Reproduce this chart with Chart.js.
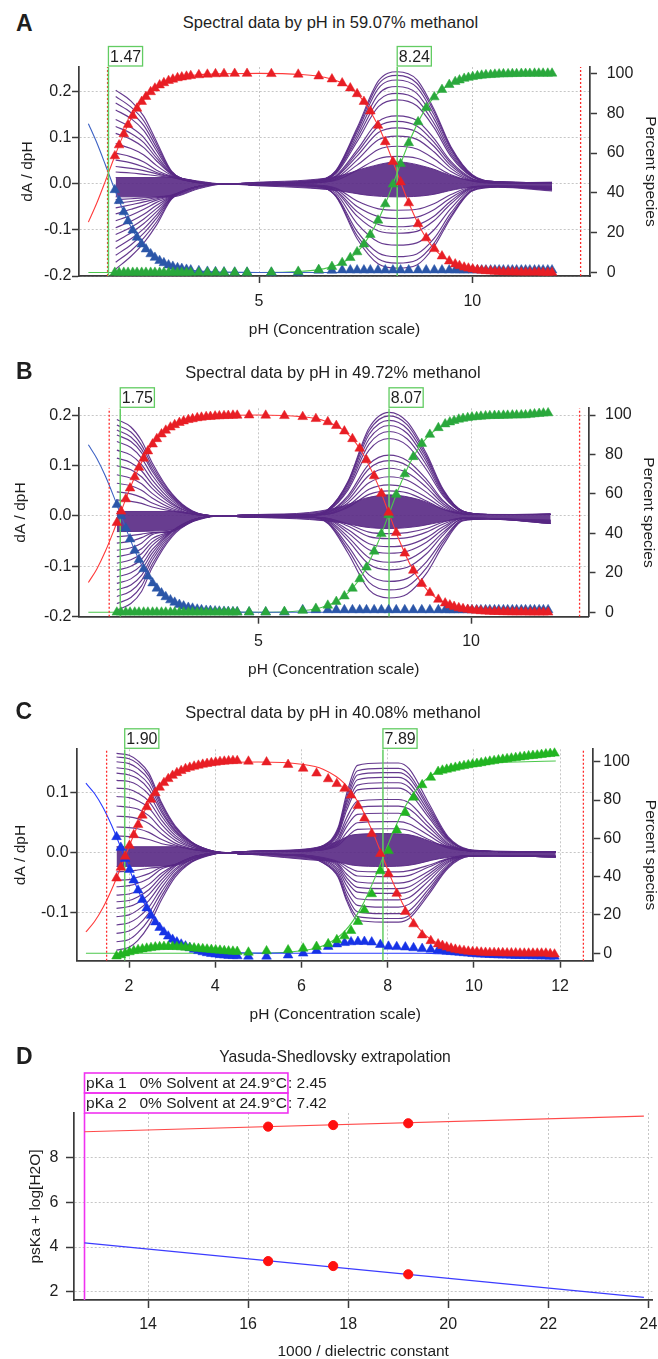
<!DOCTYPE html>
<html><head><meta charset="utf-8">
<script src="https://cdn.jsdelivr.net/npm/chart.js@4.4.1/dist/chart.umd.min.js"></script>
<style>
body{margin:0;background:#fff;width:658px;height:1359px;position:relative;overflow:hidden;font-family:"Liberation Sans",Arial,Helvetica,sans-serif;color:#1e1e1e}
canvas{position:absolute;left:0}
.t{position:absolute;white-space:nowrap;line-height:1;z-index:5}
.lt{font-weight:bold;font-size:23px}
.ti{font-size:16.5px;width:600px;text-align:center}
</style></head><body>
<canvas id="cA" width="658" height="305" style="top:40px"></canvas>
<canvas id="cB" width="658" height="305" style="top:380px"></canvas>
<canvas id="cC" width="658" height="310" style="top:720px"></canvas>
<canvas id="cD" width="658" height="299" style="top:1060px"></canvas>
<div class="t lt" style="left:16px;top:12px">A</div>
<div class="t ti" style="left:30.5px;top:13.6px">Spectral data by pH in 59.07% methanol</div>
<div class="t lt" style="left:16px;top:360.4px">B</div>
<div class="t ti" style="left:33px;top:363.6px">Spectral data by pH in 49.72% methanol</div>
<div class="t lt" style="left:15.5px;top:700.4px">C</div>
<div class="t ti" style="left:33px;top:703.6px">Spectral data by pH in 40.08% methanol</div>
<div class="t lt" style="left:16px;top:1044.5px">D</div>
<div class="t ti" style="left:35px;top:1049.3px;font-size:15.7px">Yasuda-Shedlovsky extrapolation</div>
<script>
// ===================== DATA =====================
// ---- Panel A (59.07% methanol) ----
const A_xTicks = [5, 10];
const A_yTicks = [-0.2, -0.1, 0, 0.1, 0.2];
const A_pctTicks = [0, 20, 40, 60, 80, 100];
const A_pKa = [1.47, 8.24];
const A_marks = [1.45, 12.54];
const A_triPH = [1.62,1.72,1.83,1.93,2.04,2.14,2.25,2.35,2.46,2.56,2.67,2.77,2.88,2.98,3.09,3.19,3.30,3.40,
  3.59,3.79,3.98,4.18,4.43,4.72,5.29,5.92,6.40,6.71,6.95,7.14,7.30,7.46,7.61,7.79,7.96,8.14,8.32,8.51,8.73,8.92,9.11,9.29,9.46,
  9.60,9.70,9.81,9.91,10.01,10.12,10.22,10.32,10.43,10.53,10.63,10.73,10.84,10.94,11.04,11.15,11.25,11.35,11.46,11.56,11.66,11.77,11.87];
const A_red = [58.5,64.0,69.6,74.2,78.8,82.4,85.8,88.3,90.7,92.5,94.1,95.2,96.3,97.0,97.7,98.1,98.5,98.8,
  99.2,99.5,99.7,99.8,99.9,99.9,99.8,99.5,98.6,97.1,95.1,92.6,89.7,85.8,81.0,73.8,65.6,55.7,45.4,34.9,24.4,17.3,11.9,8.2,5.7,
  4.2,3.4,2.6,2.1,1.7,1.3,1.0,0.8,0.7,0.5,0.4,0.3,0.3,0.2,0.2,0.1,0.1,0.1,0.1,0.1,0,0,0];
const A_green = [0,0,0,0,0,0,0,0,0,0,0,0,0,0,0,0,0,0,
  0,0,0,0,0,0,0.1,0.5,1.4,2.9,4.9,7.4,10.3,14.2,19.0,26.2,34.4,44.3,54.6,65.1,75.6,82.7,88.1,91.8,94.3,
  95.8,96.6,97.4,97.9,98.3,98.7,99.0,99.2,99.3,99.5,99.6,99.7,99.7,99.8,99.8,99.9,99.9,99.9,100,100,100,100,100];
const A_blue = [41.5,36.0,30.4,25.8,21.2,17.6,14.2,11.7,9.3,7.5,5.9,4.8,3.7,3.0,2.3,1.9,1.5,1.2,
  0.8,0.5,0.3,0.2,0.1,0.1,0,0,1.0,1.0,1.2,1.2,1.2,1.2,1.2,1.2,1.2,1.2,1.2,1.2,1.2,1.2,1.2,1.2,1.2,
  1.2,1.2,1.2,1.2,1.2,1.2,1.2,1.2,1.2,1.2,1.2,1.2,1.2,1.2,1.2,1.2,1.2,1.2,1.2,1.2,1.2,1.2,1.2];
const A_linePH = [1.0,1.2,1.4,1.6,1.8,2.0,2.2,2.5,2.8,3.2,3.6,4.2,5.0,6.0,6.5,7.0,7.4,7.8,8.0,8.24,8.5,8.8,9.1,9.5,10.0,10.5,11.0,11.9];
const A_redLine = [25.3,35.0,46.0,57.4,68.1,77.2,84.3,91.5,95.5,98.2,99.3,99.8,100,99.4,98.2,94.6,87.4,73.4,63.5,50,35.5,21.6,12.1,5.2,1.7,0.5,0.2,0];
const A_blueLine = [74.7,65.0,54.0,42.6,31.9,22.8,15.7,8.5,4.5,1.8,0.7,0.2,0,0,0,0,0,0,0,0,0,0,0,0,0,0,0,0];
const A_greenLine = [0,0,0,0,0,0,0,0,0,0,0,0,0,0.6,1.8,5.4,12.6,26.6,36.5,50,64.5,78.4,87.9,94.8,98.3,99.5,99.8,100];
const A_bandPH = [1.64,2.95,3.6,4.2,5.0,6.2,6.9,7.5,8.24,9.0,9.6,10.1,11.0,11.87];
const A_bandTop = [.014,.014,.006,0,.004,.009,.018,.035,.048,.035,.015,.006,.003,.004];
const A_bandBot = [-.028,-.028,-.01,0,-.004,-.009,-.015,-.024,-.028,-.024,-.012,-.006,-.006,-.012];
const A_r1PH = [1.64,2.0,2.3,2.6,2.95,3.5,4.2,5.0];
const A_r1Up = [
  [.204,.180,.147,.092,.028,.006,0,.002],[.190,.167,.137,.086,.027,.006,0,.002],
  [.176,.155,.127,.079,.026,.006,0,.002],[.161,.142,.116,.072,.025,.005,0,.002],
  [.140,.123,.101,.063,.023,.005,0,.002],[.125,.110,.090,.056,.022,.005,0,.002],
  [.110,.097,.079,.050,.021,.005,0,.002],[.088,.077,.063,.040,.019,.004,0,.002],
  [.067,.059,.048,.030,.017,.004,0,.001],[.052,.046,.037,.025,.016,.004,0,.001],
  [.038,.034,.029,.022,.015,.004,0,.001],[.026,.024,.021,.018,.014,.004,0,.001]];
const A_r1Lo = [
  [-.185,-.157,-.128,-.089,-.033,-.007,0,-.002],[-.170,-.145,-.117,-.082,-.032,-.007,0,-.002],
  [-.155,-.132,-.107,-.074,-.031,-.007,0,-.002],[-.140,-.119,-.097,-.067,-.030,-.007,0,-.002],
  [-.125,-.106,-.086,-.060,-.030,-.007,0,-.002],[-.110,-.094,-.076,-.053,-.029,-.007,0,-.002],
  [-.095,-.081,-.066,-.046,-.028,-.007,0,-.002],[-.080,-.068,-.055,-.040,-.027,-.007,0,-.002],
  [-.065,-.055,-.046,-.035,-.026,-.007,0,-.002],[-.052,-.045,-.039,-.032,-.025,-.007,0,-.002],
  [-.042,-.038,-.034,-.030,-.025,-.007,0,-.002],[-.034,-.032,-.030,-.028,-.024,-.007,0,-.002]];
const A_r2PH = [5.0,6.3,6.8,7.3,7.8,8.24,8.7,9.1,9.5,10.0,10.6,11.87];
const A_r2Up = [
  [.002,.007,.029,.122,.224,.244,.227,.163,.081,.020,.005,.002],
  [.002,.007,.028,.118,.217,.236,.219,.158,.078,.019,.005,.002],
  [.002,.007,.027,.113,.208,.226,.210,.151,.075,.018,.005,.002],
  [.002,.006,.025,.106,.195,.212,.197,.142,.070,.017,.004,.002],
  [.002,.006,.024,.099,.181,.197,.183,.132,.065,.016,.004,.002],
  [.002,.005,.022,.092,.168,.183,.170,.123,.060,.015,.004,.002],
  [.002,.004,.018,.074,.136,.148,.138,.099,.049,.012,.003,.002],
  [.002,.004,.016,.068,.125,.136,.126,.091,.045,.011,.003,.002],
  [.002,.004,.015,.061,.112,.122,.113,.082,.040,.010,.003,.002],
  [.002,.003,.012,.052,.096,.104,.097,.070,.034,.008,.002,.002],
  [.002,.003,.010,.041,.075,.082,.076,.055,.027,.007,.002,.002],
  [.002,.003,.008,.030,.055,.060,.056,.040,.020,.006,.002,.002]];
const A_r2Lo = [
  [-.002,-.003,-.009,-.037,-.054,-.057,-.055,-.043,-.023,-.006,-.004,-.005],
  [-.002,-.003,-.011,-.049,-.071,-.075,-.072,-.056,-.030,-.007,-.004,-.007],
  [-.002,-.003,-.014,-.060,-.088,-.093,-.089,-.070,-.037,-.008,-.005,-.009],
  [-.002,-.003,-.016,-.070,-.102,-.107,-.103,-.080,-.043,-.009,-.005,-.010],
  [-.002,-.004,-.020,-.086,-.126,-.133,-.128,-.100,-.053,-.011,-.006,-.011],
  [-.002,-.005,-.024,-.103,-.150,-.158,-.152,-.119,-.063,-.013,-.006,-.012],
  [-.002,-.005,-.026,-.112,-.163,-.172,-.165,-.129,-.069,-.014,-.006,-.013],
  [-.002,-.005,-.027,-.119,-.174,-.183,-.176,-.137,-.073,-.015,-.007,-.015]];

// ---- Panel B (49.72% methanol) ----
const B_xTicks = [5, 10];
const B_yTicks = [-0.2, -0.1, 0, 0.1, 0.2];
const B_pctTicks = [0, 20, 40, 60, 80, 100];
const B_pKa = [1.75, 8.07];
const B_marks = [1.49, 12.55];
const B_triPH = [1.67,1.77,1.88,1.98,2.09,2.19,2.30,2.40,2.51,2.61,2.72,2.82,2.93,3.03,3.14,3.24,3.35,3.45,3.56,3.66,3.77,3.87,3.98,4.08,4.19,4.29,4.40,4.50,
  4.78,5.17,5.61,6.04,6.35,6.63,6.83,7.02,7.21,7.38,7.54,7.72,7.89,8.06,8.24,8.44,8.64,8.84,9.03,9.23,9.39,
  9.50,9.60,9.71,9.81,9.92,10.02,10.13,10.23,10.34,10.44,10.55,10.65,10.76,10.86,10.97,11.07,11.18,11.28,11.39,11.49,11.60,11.70,11.81];
const B_red = [45.4,51.2,57.4,62.9,68.6,73.4,78.0,81.7,85.2,87.9,90.3,92.2,93.8,95.0,96.1,96.9,97.6,98.0,98.5,98.8,99.1,99.2,99.4,99.5,99.6,99.7,99.8,99.8,
  99.9,99.8,99.6,99.1,98.1,96.5,94.6,91.8,87.9,83.1,77.2,69.1,60.2,50.6,40.3,29.9,21.2,14.5,9.9,6.5,4.6,
  3.6,2.9,2.2,1.8,1.4,1.1,0.9,0.7,0.5,0.4,0.3,0.3,0.2,0.2,0.1,0.1,0.1,0.1,0,0,0,0,0];
const B_green = [0,0,0,0,0,0,0,0,0,0,0,0,0,0,0,0,0,0,0,0,0,0,0,0,0,0,0,0,
  0.1,0.1,0.3,0.9,1.9,3.5,5.4,8.2,12.1,16.9,22.8,30.9,39.8,49.4,59.7,70.1,78.8,85.5,90.1,93.5,95.4,
  96.4,97.1,97.8,98.2,98.6,98.9,99.1,99.3,99.5,99.6,99.7,99.7,99.8,99.8,99.9,99.9,100,100,100.3,100.5,100.7,100.9,101];
const B_blue = [54.6,48.8,42.6,37.1,31.4,26.6,22.0,18.3,14.8,12.1,9.7,7.8,6.2,5.0,3.9,3.1,2.4,2.0,1.5,1.2,0.9,0.8,0.6,0.5,0.4,0.3,0.2,0.2,
  0.1,0.1,0,1.2,1.2,1.2,1.2,1.2,1.2,1.2,1.2,1.2,1.2,1.2,1.2,1.2,1.2,1.2,1.2,1.2,1.2,
  1.2,1.2,1.2,1.2,1.2,1.2,1.2,1.2,1.2,1.2,1.2,1.2,1.2,1.2,1.2,1.2,1.2,1.2,1.2,1.2,1.2,1.2,1.2];
const B_linePH = [1.0,1.2,1.4,1.6,1.75,1.9,2.1,2.3,2.6,3.0,3.4,4.0,5.0,6.0,6.5,7.0,7.4,7.8,8.07,8.3,8.6,9.0,9.4,9.8,10.3,11.0,11.9];
const B_redLine = [15.1,22.0,30.9,41.5,50,58.5,69.1,78.0,87.6,94.7,97.8,99.4,100,99.2,97.4,92.2,82.4,65.1,50,37.0,22.8,10.5,4.5,1.8,0.6,0.1,0];
const B_blueLine = [84.9,78.0,69.1,58.5,50,41.5,30.9,22.0,12.4,5.3,2.2,0.6,0,0,0,0,0,0,0,0,0,0,0,0,0,0,0];
const B_greenLine = [0,0,0,0,0,0,0,0,0,0,0,0,0,0.8,2.6,7.8,17.6,34.9,50,63.0,77.2,89.5,95.5,98.2,99.4,99.9,100];
const B_bandPH = [1.67,3.0,3.5,4.1,5.0,6.2,7.0,7.5,8.07,8.8,9.4,10.0,11.0,11.87];
const B_bandTop = [.009,.009,.004,0,.003,.007,.02,.035,.042,.032,.012,.004,.003,.005];
const B_bandBot = [-.031,-.028,-.01,0,-.003,-.007,-.014,-.022,-.025,-.02,-.01,-.004,-.008,-.015];
const B_r1PH = [1.67,2.0,2.25,2.5,2.97,3.45,4.1,4.9];
const B_r1Up = [
  [.192,.177,.150,.106,.044,.010,0,.002],[.181,.167,.141,.100,.042,.009,0,.002],
  [.171,.157,.133,.094,.039,.009,0,.002],[.161,.148,.126,.089,.037,.008,0,.002],
  [.148,.136,.115,.081,.034,.007,0,.002],[.131,.121,.102,.072,.030,.007,0,.002],
  [.115,.106,.090,.063,.026,.006,0,.002],[.100,.092,.078,.055,.023,.005,0,.002],
  [.082,.075,.064,.045,.019,.004,0,.002],[.065,.060,.051,.036,.015,.004,0,.002],
  [.048,.044,.037,.026,.012,.004,0,.002],[.032,.029,.025,.018,.010,.004,0,.002]];
const B_r1Lo = [
  [-.041,-.039,-.036,-.033,-.030,-.008,0,-.002],[-.054,-.050,-.043,-.034,-.030,-.008,0,-.002],
  [-.068,-.063,-.054,-.037,-.030,-.008,0,-.002],[-.081,-.075,-.065,-.045,-.030,-.008,0,-.002],
  [-.094,-.087,-.075,-.052,-.030,-.008,0,-.002],[-.108,-.100,-.086,-.059,-.030,-.008,0,-.002],
  [-.121,-.113,-.097,-.067,-.030,-.008,0,-.002],[-.134,-.125,-.107,-.074,-.030,-.008,0,-.002],
  [-.147,-.137,-.118,-.081,-.032,-.009,0,-.002],[-.160,-.149,-.128,-.088,-.035,-.010,0,-.002],
  [-.174,-.162,-.139,-.096,-.038,-.010,0,-.002],[-.187,-.174,-.150,-.103,-.041,-.011,0,-.002]];
const B_r2PH = [4.9,6.2,6.65,7.1,7.6,8.07,8.5,8.95,9.35,9.8,10.4,11.87];
const B_r2Up = [
  [.002,.002,.014,.068,.175,.206,.187,.124,.052,.010,.003,.003],
  [.002,.002,.014,.066,.169,.199,.181,.119,.050,.010,.003,.003],
  [.002,.002,.013,.063,.162,.190,.173,.114,.048,.010,.003,.003],
  [.002,.002,.013,.059,.153,.180,.164,.108,.045,.009,.003,.003],
  [.002,.002,.012,.055,.143,.168,.153,.101,.042,.008,.003,.003],
  [.002,.002,.011,.051,.131,.154,.140,.092,.039,.008,.003,.003],
  [.002,.002,.008,.040,.103,.121,.110,.073,.030,.006,.003,.003],
  [.002,.002,.008,.036,.094,.110,.100,.066,.028,.006,.003,.003],
  [.002,.002,.007,.031,.081,.095,.086,.057,.024,.005,.003,.003],
  [.002,.002,.005,.026,.066,.078,.071,.047,.020,.004,.003,.003],
  [.002,.002,.004,.020,.053,.062,.056,.037,.016,.004,.003,.003],
  [.002,.002,.004,.017,.043,.050,.046,.030,.013,.004,.003,.003]];
const B_r2Lo = [
  [-.002,-.002,-.005,-.016,-.032,-.035,-.033,-.025,-.012,-.004,-.005,-.008],
  [-.002,-.002,-.005,-.020,-.041,-.045,-.043,-.032,-.016,-.004,-.005,-.009],
  [-.002,-.002,-.006,-.027,-.055,-.061,-.058,-.043,-.021,-.004,-.005,-.010],
  [-.002,-.002,-.007,-.033,-.067,-.074,-.070,-.052,-.026,-.004,-.005,-.011],
  [-.002,-.002,-.009,-.041,-.083,-.092,-.087,-.064,-.032,-.006,-.005,-.012],
  [-.002,-.002,-.011,-.048,-.096,-.107,-.102,-.075,-.037,-.006,-.006,-.013],
  [-.002,-.002,-.013,-.059,-.117,-.130,-.124,-.091,-.046,-.008,-.006,-.014],
  [-.002,-.002,-.015,-.066,-.132,-.147,-.140,-.103,-.051,-.009,-.006,-.015],
  [-.002,-.002,-.016,-.073,-.147,-.163,-.155,-.114,-.057,-.010,-.006,-.015]];

// ---- Panel C (40.08% methanol) ----
const C_xTicks = [2, 4, 6, 8, 10, 12];
const C_yTicks = [-0.1, 0, 0.1];
const C_pctTicks = [0, 20, 40, 60, 80, 100];
const C_pKa = [1.90, 7.89];
const C_marks = [1.48, 12.54];
const C_triPH = [1.71,1.81,1.91,2.01,2.11,2.21,2.31,2.41,2.51,2.61,2.71,2.81,2.91,3.01,3.11,3.21,3.31,3.41,3.51,3.61,3.71,3.81,3.91,4.01,4.11,4.21,4.31,4.41,4.51,
  4.77,5.19,5.69,6.04,6.35,6.62,6.82,7.00,7.15,7.31,7.46,7.63,7.83,8.02,8.21,8.41,8.60,8.80,9.00,9.17,
  9.27,9.37,9.47,9.57,9.67,9.77,9.87,9.97,10.07,10.17,10.27,10.37,10.47,10.57,10.67,10.77,10.87,10.97,11.07,11.17,11.27,11.37,11.47,11.57,11.67,11.77,11.87];
const C_red = [39.2,44.8,50.6,56.3,61.8,67.1,72.0,76.4,80.3,83.7,86.6,89.0,91.1,92.8,94.2,95.3,96.3,97.0,97.6,98.1,98.6,99.0,99.4,99.7,100.0,100.2,100.4,100.5,100.5,
  100.2,99.8,98.5,96.5,94.0,91.0,88.5,86.0,82.5,77.0,70.5,62.5,52.0,41.5,31.2,21.7,15.3,9.5,6.5,4.8,
  4.0,3.2,2.6,2.0,1.6,1.3,1.0,0.8,0.7,0.5,0.4,0.3,0.3,0.2,0.2,0.1,0.1,0.1,0,0,0,0,0,0,0,-0.3,-0.5];
const C_green = [-1.5,-0.8,0,0.7,1.3,1.8,2.2,2.6,2.9,3.2,3.4,3.5,3.5,3.5,3.4,3.3,3.1,2.9,2.7,2.5,2.3,2.1,1.9,1.7,1.5,1.3,1.1,1.0,0.9,
  0.5,1.2,1.7,2.6,3.5,4.9,7.0,9.0,11.8,16.5,22.6,31.0,43.0,53.5,64.3,73.4,81.4,87.9,91.8,94.8,
  95.5,96.0,96.5,97.0,97.5,97.9,98.3,98.7,99.0,99.4,99.8,100.2,100.5,100.9,101.2,101.5,101.8,102.1,102.4,102.7,103.0,103.2,103.4,103.7,104.0,104.2,104.4];
const C_blue = [60.8,55.2,49.4,43.7,38.2,32.9,28.0,23.6,19.7,16.3,13.4,11.0,8.9,7.2,5.8,4.7,3.7,2.8,2.0,1.3,0.7,0.2,-0.2,-0.5,-0.8,-1.0,-1.2,-1.3,-1.4,
  -1.6,-1.6,-1.0,0,1.5,3.5,4.8,5.5,5.9,6.1,6.1,5.8,4.5,3.6,3.4,3.2,2.8,2.4,2.0,1.6,
  1.3,1.0,0.8,0.6,0.4,0.2,0,-0.2,-0.4,-0.5,-0.6,-0.7,-0.8,-0.9,-1.0,-1.0,-1.1,-1.2,-1.2,-1.3,-1.3,-1.4,-1.4,-1.5,-1.5,-1.6,-1.6];
const C_linePH = [1.0,1.2,1.4,1.6,1.8,1.9,2.0,2.2,2.4,2.7,3.0,3.4,4.0,5.0,6.0,6.5,7.0,7.4,7.7,7.89,8.1,8.4,8.8,9.2,9.6,10.2,11.0,11.9];
const C_redLine = [11.2,16.6,24.0,33.4,44.3,50,55.7,66.6,76.0,86.3,92.6,96.9,99.2,99.9,98.7,96.1,88.6,75.5,60.8,50,38.2,23.6,11.0,4.7,1.9,0.5,0,-0.3];
const C_blueLine = [88.8,83.4,76.0,66.6,55.7,50,44.3,33.4,24.0,13.7,7.4,3.1,0.8,0.1,0,0,0,0,0,0,0,0,0,-0.2,-0.5,-0.9,-1.3,-1.6];
const C_greenLine = [0,0,0,0,0,0,0,0,0,0,0,0,0,0,1.3,3.9,11.4,24.5,39.2,50,61.8,76.4,89.0,95.3,98.1,99.5,99.9,100.4];
const C_bandPH = [1.71,3.0,3.6,4.23,5.0,6.2,6.8,7.2,7.9,8.5,9.2,9.9,11.0,11.9];
const C_bandTop = [.01,.01,.004,0,.003,.007,.018,.03,.032,.03,.014,.005,.002,.001];
const C_bandBot = [-.023,-.022,-.008,0,-.004,-.012,-.015,-.021,-.023,-.021,-.01,-.005,-.005,-.007];
const C_r1PH = [1.71,2.0,2.2,2.46,2.76,3.07,3.45,3.84,4.23,4.7];
const C_r1Up = [
  [.166,.163,.154,.133,.083,.045,.018,.005,0,.002],[.160,.157,.149,.128,.080,.043,.018,.005,0,.002],
  [.152,.149,.141,.122,.076,.041,.017,.005,0,.002],[.142,.139,.132,.114,.071,.038,.016,.004,0,.002],
  [.133,.130,.124,.106,.067,.036,.015,.004,0,.002],[.121,.119,.113,.097,.061,.033,.013,.004,0,.002],
  [.108,.106,.100,.086,.054,.029,.012,.003,0,.002],[.094,.092,.087,.075,.047,.025,.010,.003,0,.002],
  [.078,.076,.073,.062,.039,.021,.009,.003,0,.002],[.061,.060,.057,.049,.031,.016,.007,.002,0,.002],
  [.043,.042,.040,.034,.022,.013,.006,.002,0,.002],[.028,.027,.026,.022,.015,.011,.006,.002,0,.002]];
const C_r1Lo = [
  [-.032,-.031,-.029,-.026,-.024,-.020,-.008,-.002,0,-.003],[-.046,-.045,-.041,-.035,-.024,-.020,-.008,-.002,0,-.003],
  [-.057,-.055,-.051,-.043,-.027,-.020,-.008,-.002,0,-.003],[-.071,-.069,-.064,-.053,-.034,-.020,-.008,-.002,0,-.003],
  [-.082,-.080,-.074,-.062,-.039,-.021,-.008,-.002,0,-.003],[-.093,-.090,-.084,-.070,-.045,-.023,-.009,-.003,0,-.003],
  [-.107,-.104,-.096,-.080,-.051,-.027,-.011,-.003,0,-.003],[-.121,-.117,-.109,-.091,-.058,-.030,-.012,-.004,0,-.003],
  [-.135,-.131,-.122,-.101,-.065,-.034,-.014,-.004,0,-.003],[-.149,-.145,-.134,-.112,-.072,-.037,-.015,-.004,0,-.003],
  [-.163,-.158,-.147,-.122,-.078,-.041,-.016,-.005,0,-.003]];
const C_r2PH = [4.7,6.0,6.5,6.85,7.05,7.3,7.89,8.25,8.5,8.95,9.4,9.9,10.5,11.9];
const C_r2Up = [
  [.002,.005,.012,.042,.099,.146,.150,.150,.140,.083,.027,.005,.002,.001],
  [.002,.004,.011,.039,.093,.137,.141,.141,.131,.078,.025,.004,.002,.001],
  [.002,.004,.011,.038,.088,.130,.134,.134,.125,.074,.024,.004,.002,.001],
  [.002,.004,.010,.035,.083,.122,.126,.126,.117,.069,.023,.004,.002,.001],
  [.002,.004,.009,.033,.077,.113,.117,.117,.109,.064,.021,.004,.002,.001],
  [.002,.003,.009,.030,.071,.105,.108,.108,.100,.059,.019,.003,.002,.001],
  [.002,.003,.007,.025,.059,.086,.089,.089,.083,.049,.016,.003,.002,.001],
  [.002,.003,.006,.022,.051,.076,.078,.078,.073,.043,.014,.003,.002,.001],
  [.002,.003,.005,.018,.044,.064,.066,.066,.061,.036,.012,.003,.002,.001],
  [.002,.003,.005,.015,.034,.050,.052,.052,.048,.029,.010,.003,.002,.001],
  [.002,.003,.005,.012,.026,.039,.040,.040,.037,.022,.008,.003,.002,.001]];
const C_r2Lo = [
  [-.002,-.004,-.008,-.015,-.023,-.031,-.032,-.032,-.030,-.021,-.010,-.005,-.005,-.006],
  [-.002,-.004,-.009,-.017,-.028,-.039,-.040,-.040,-.038,-.024,-.011,-.005,-.005,-.006],
  [-.002,-.004,-.010,-.019,-.036,-.049,-.051,-.051,-.048,-.031,-.011,-.005,-.005,-.006],
  [-.002,-.004,-.011,-.021,-.042,-.058,-.060,-.060,-.057,-.036,-.013,-.005,-.005,-.006],
  [-.002,-.004,-.011,-.024,-.048,-.066,-.068,-.068,-.065,-.041,-.015,-.005,-.005,-.006],
  [-.002,-.004,-.012,-.028,-.055,-.077,-.079,-.079,-.075,-.047,-.017,-.005,-.005,-.007],
  [-.002,-.005,-.014,-.032,-.064,-.088,-.091,-.091,-.086,-.055,-.020,-.005,-.005,-.007],
  [-.002,-.005,-.015,-.036,-.071,-.099,-.102,-.102,-.097,-.061,-.022,-.005,-.005,-.007],
  [-.002,-.006,-.017,-.039,-.077,-.107,-.110,-.110,-.105,-.066,-.024,-.006,-.005,-.007],
  [-.002,-.006,-.017,-.041,-.081,-.113,-.116,-.116,-.110,-.070,-.026,-.006,-.005,-.007]];

// ---- Panel D (Yasuda-Shedlovsky) ----
const D_xTicks = [14, 16, 18, 20, 22, 24];
const D_yTicks = [2, 4, 6, 8];
const D_dielX = [16.40, 17.70, 19.20];
const D_psKa1 = [3.37, 3.15, 2.78];
const D_psKa2 = [9.39, 9.46, 9.54];
const D_fitX = [12.73, 23.91];
const D_fit1 = [4.19, 1.75];
const D_fit2 = [9.16, 9.86];
const D_zeroSolvent = 12.73;
const D_labels = ['pKa 1   0% Solvent at 24.9°C', 'pKa 2   0% Solvent at 24.9°C'];
const D_values = [2.45, 7.42];

// ===================== DRAWING =====================
const FONT = '"Liberation Sans", Arial, Helvetica, sans-serif';
const AXIS = '#3a3a3a', GRID = '#c6c6c6', TXT = '#1e1e1e';
const PURPLE = 'rgba(88,40,132,0.92)', PURPLE_FILL = 'rgba(88,40,132,0.9)';
const RED_TRI = '#e81e25', RED_LINE = '#ff3a3a', GREEN_LINE = '#4cc84c', VGREEN = '#62cc62', RED_DOT = '#ff2a2a';

function pts(xs, ys) { return xs.map((x, i) => ({ x: x, y: ys[i] })); }
function lineDS(xs, ys, color, width, yAxisID, order, extra) {
  return Object.assign({ data: pts(xs, ys), borderColor: color, backgroundColor: color, borderWidth: width,
    pointRadius: 0, pointHoverRadius: 0, fill: false, yAxisID: yAxisID, order: order }, extra || {});
}
function triDS(xs, ys, color, order) {
  return { data: pts(xs, ys), showLine: false, pointStyle: 'triangle', pointRadius: 5.6, pointHoverRadius: 5.6,
    pointBackgroundColor: color, pointBorderColor: color, pointBorderWidth: 0.5, borderColor: color,
    backgroundColor: color, yAxisID: 'y2', order: order, clip: false };
}
function axis(o) {
  return {
    type: 'linear', position: o.position, min: o.min, max: o.max,
    afterBuildTicks: s => { s.ticks = o.ticks.map(v => ({ value: v })); },
    afterFit: s => {
      if (o.position === 'bottom') s.height = o.size; else s.width = o.size;
      s.paddingLeft = 0; s.paddingRight = 0; s.paddingTop = 0; s.paddingBottom = 0;
    },
    grid: { display: true, drawOnChartArea: o.gridOn, color: GRID, lineWidth: 1, tickColor: AXIS,
      tickLength: o.tickLen, tickWidth: 1.5, drawTicks: true },
    border: { display: true, color: AXIS, width: 1.7, dash: [2, 2] },
    ticks: { color: TXT, font: { family: FONT, size: 16, lineHeight: 1.2 }, padding: o.pad, maxRotation: 0,
      minRotation: 0, autoSkip: false, callback: o.fmt },
    title: { display: true, text: o.title, color: TXT, font: { family: FONT, size: 15.5, lineHeight: 1 },
      padding: o.position === 'bottom' ? { top: 0, bottom: o.titlePad } : { top: o.titlePad, bottom: 0 } }
  };
}

const boxPlugin = {
  id: 'pkaBoxes',
  afterDraw(chart, args, opts) {
    if (!opts || !opts.values) return;
    const ctx = chart.ctx, xs = chart.scales.x, top = chart.chartArea.top;
    ctx.save();
    ctx.font = '16px ' + FONT;
    ctx.textBaseline = 'middle';
    opts.values.forEach(v => {
      const px = xs.getPixelForValue(v);
      const txt = v.toFixed(2);
      const w = ctx.measureText(txt).width + 3, h = 19.5;
      ctx.fillStyle = '#ffffff';
      ctx.fillRect(px, top - h - 1, w, h);
      ctx.strokeStyle = VGREEN; ctx.lineWidth = 1.3;
      ctx.strokeRect(px, top - h - 1, w, h);
      ctx.fillStyle = TXT;
      ctx.fillText(txt, px + 1.6, top - h / 2);
    });
    ctx.restore();
  }
};

function spectral(id, P, G) {
  const sm = { cubicInterpolationMode: 'monotone' };
  const ds = [];
  ds.push(lineDS(P.bandX, P.bandTop, PURPLE, 1, 'y', 9, Object.assign({ fill: '+1', backgroundColor: PURPLE_FILL }, sm)));
  ds.push(lineDS(P.bandX, P.bandBot, PURPLE, 1, 'y', 9, sm));
  P.r1Up.concat(P.r1Lo).forEach(c => ds.push(lineDS(P.r1X, c, PURPLE, 1.15, 'y', 8, sm)));
  P.r2Up.concat(P.r2Lo).forEach(c => ds.push(lineDS(P.r2X, c, PURPLE, 1.15, 'y', 8, sm)));
  ds.push(lineDS(P.lineX, P.blueLine, G.blueLine, 1.1, 'y2', 6, sm));
  ds.push(lineDS(P.lineX, P.greenLine, GREEN_LINE, 1.1, 'y2', 6, sm));
  ds.push(lineDS(P.lineX, P.redLine, RED_LINE, 1.1, 'y2', 6, sm));
  P.marks.forEach(v => ds.push(lineDS([v, v], [G.yMin, G.yMax], RED_DOT, 1.3, 'y', 5, { borderDash: [2, 2] })));
  P.pKa.forEach(v => ds.push(lineDS([v, v], [G.yMin, G.yMax], VGREEN, 1.5, 'y', 4)));
  ds.push(triDS(P.triX, P.blue, G.blueTri, 3));
  ds.push(triDS(P.triX, P.green, G.greenTri, 2));
  ds.push(triDS(P.triX, P.red, RED_TRI, 1));
  new Chart(document.getElementById(id), {
    type: 'line',
    data: { datasets: ds },
    options: {
      responsive: false, animation: false, devicePixelRatio: 1, events: [],
      layout: { padding: { top: G.top, left: 0, right: 0, bottom: 0 } },
      plugins: { legend: { display: false }, tooltip: { enabled: false }, pkaBoxes: { values: P.pKa } },
      scales: {
        x: axis({ position: 'bottom', min: G.xMin, max: G.xMax, ticks: P.xTicks, size: G.xH, gridOn: true,
          tickLen: 7, pad: G.xPad, fmt: v => String(v), title: 'pH (Concentration scale)', titlePad: 7.2 }),
        y: axis({ position: 'left', min: G.yMin, max: G.yMax, ticks: P.yTicks, size: G.left, gridOn: true,
          tickLen: 7, pad: G.yPad, fmt: v => v.toFixed(1), title: 'dA / dpH', titlePad: G.yTitlePad }),
        y2: axis({ position: 'right', min: G.y2Min, max: G.y2Max, ticks: P.pctTicks, size: 658 - G.right, gridOn: false,
          tickLen: 7, pad: G.y2Pad, fmt: v => String(v), title: 'Percent species', titlePad: G.y2TitlePad })
      }
    },
    plugins: [boxPlugin]
  });
}

spectral('cA', {
  xTicks: A_xTicks, yTicks: A_yTicks, pctTicks: A_pctTicks, pKa: A_pKa, marks: A_marks,
  triX: A_triPH, red: A_red, green: A_green, blue: A_blue,
  lineX: A_linePH, redLine: A_redLine, blueLine: A_blueLine, greenLine: A_greenLine,
  bandX: A_bandPH, bandTop: A_bandTop, bandBot: A_bandBot,
  r1X: A_r1PH, r1Up: A_r1Up, r1Lo: A_r1Lo, r2X: A_r2PH, r2Up: A_r2Up, r2Lo: A_r2Lo
}, { top: 27, left: 79, right: 590, xH: 69, xMin: 0.78, xMax: 12.76, yMin: -0.2, yMax: 0.2543,
  y2Min: -1.76, y2Max: 103.2, xPad: 9.1, yPad: 0.5, y2Pad: 9.7, yTitlePad: 20, y2TitlePad: 0,
  blueTri: '#2b56a8', greenTri: '#2aa83c', blueLine: '#3d62c4' });

spectral('cB', {
  xTicks: B_xTicks, yTicks: B_yTicks, pctTicks: B_pctTicks, pKa: B_pKa, marks: B_marks,
  triX: B_triPH, red: B_red, green: B_green, blue: B_blue,
  lineX: B_linePH, redLine: B_redLine, blueLine: B_blueLine, greenLine: B_greenLine,
  bandX: B_bandPH, bandTop: B_bandTop, bandBot: B_bandBot,
  r1X: B_r1PH, r1Up: B_r1Up, r1Lo: B_r1Lo, r2X: B_r2PH, r2Up: B_r2Up, r2Lo: B_r2Lo
}, { top: 28.3, left: 79, right: 588.5, xH: 68.3, xMin: 0.78, xMax: 12.76, yMin: -0.2002, yMax: 0.2141,
  y2Min: -2.23, y2Max: 103.4, xPad: 8.7, yPad: 0.5, y2Pad: 9.5, yTitlePad: 13.3, y2TitlePad: 2,
  blueTri: '#2b56a8', greenTri: '#2aa83c', blueLine: '#3d62c4' });

spectral('cC', {
  xTicks: C_xTicks, yTicks: C_yTicks, pctTicks: C_pctTicks, pKa: C_pKa, marks: C_marks,
  triX: C_triPH, red: C_red, green: C_green, blue: C_blue,
  lineX: C_linePH, redLine: C_redLine, blueLine: C_blueLine, greenLine: C_greenLine,
  bandX: C_bandPH, bandTop: C_bandTop, bandBot: C_bandBot,
  r1X: C_r1PH, r1Up: C_r1Up, r1Lo: C_r1Lo, r2X: C_r2PH, r2Up: C_r2Up, r2Lo: C_r2Lo
}, { top: 29.3, left: 77.3, right: 593.3, xH: 69.3, xMin: 0.80, xMax: 12.77, yMin: -0.1806, yMax: 0.1729,
  y2Min: -3.86, y2Max: 106.5, xPad: 9.7, yPad: 1.7, y2Pad: 3, yTitlePad: 13.3, y2TitlePad: 0,
  blueTri: '#1733e6', greenTri: '#22b422', blueLine: '#2a3cff' });

// Panel D
const ysPlugin = {
  id: 'ysBoxes',
  afterDraw(chart) {
    const ctx = chart.ctx, xs = chart.scales.x, top = chart.chartArea.top;
    const px = xs.getPixelForValue(D_zeroSolvent);
    ctx.save();
    ctx.font = '15.5px ' + FONT;
    ctx.textBaseline = 'middle';
    D_labels.forEach((lab, i) => {
      const y0 = top - 40 + i * 20;
      const w = ctx.measureText(lab).width + 2.5;
      ctx.strokeStyle = '#f032f0'; ctx.lineWidth = 1.6;
      ctx.strokeRect(px, y0, w, 20);
      ctx.fillStyle = TXT;
      ctx.fillText(lab, px + 1.5, y0 + 10.5);
      ctx.fillText(': ' + D_values[i].toFixed(2), px + w, y0 + 10.5);
    });
    ctx.restore();
  }
};
new Chart(document.getElementById('cD'), {
  type: 'line',
  data: { datasets: [
    lineDS(D_fitX, D_fit1, '#3c3cff', 1.2, 'y', 3),
    lineDS(D_fitX, D_fit2, '#ff4a4a', 1.2, 'y', 3),
    lineDS([D_zeroSolvent, D_zeroSolvent], [1.63, 10.0], '#f032f0', 1.6, 'y', 4),
    { data: pts(D_dielX, D_psKa1), showLine: false, pointRadius: 4.6, pointHoverRadius: 4.6, pointBackgroundColor: '#ff1010',
      pointBorderColor: '#ff1010', yAxisID: 'y', order: 1, clip: false },
    { data: pts(D_dielX, D_psKa2), showLine: false, pointRadius: 4.6, pointHoverRadius: 4.6, pointBackgroundColor: '#ff1010',
      pointBorderColor: '#ff1010', yAxisID: 'y', order: 1, clip: false }
  ] },
  options: {
    responsive: false, animation: false, devicePixelRatio: 1, events: [],
    layout: { padding: { top: 53, left: 0, right: 3, bottom: 0 } },
    plugins: { legend: { display: false }, tooltip: { enabled: false } },
    scales: {
      x: axis({ position: 'bottom', min: 12.52, max: 24.08, ticks: D_xTicks, size: 59, gridOn: true, tickLen: 8,
        pad: 7.4, fmt: v => String(v), title: '1000 / dielectric constant', titlePad: 0 }),
      y: axis({ position: 'left', min: 1.63, max: 10.0, ticks: D_yTicks, size: 74, gridOn: true, tickLen: 8,
        pad: 7.7, fmt: v => String(v), title: 'psKa + log[H2O]', titlePad: 28.3 })
    }
  },
  plugins: [ysPlugin]
});
</script>
</body></html>
